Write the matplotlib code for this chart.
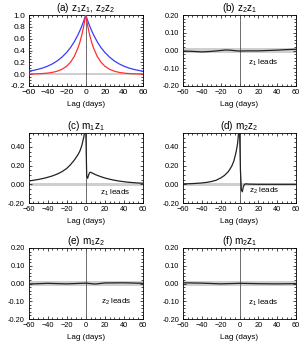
import numpy as np
import matplotlib
matplotlib.use("Agg")
import matplotlib.pyplot as plt
from matplotlib.ticker import MultipleLocator, FormatStrFormatter

plt.rcParams['font.family'] = ['Liberation Sans', 'DejaVu Sans']
plt.rcParams['mathtext.fontset'] = 'custom'
plt.rcParams['mathtext.rm'] = 'Liberation Sans'
plt.rcParams['mathtext.it'] = 'Liberation Sans'

# ---- data ----
lag_a = [-60, -55, -50, -45, -40, -35, -30, -25, -20, -16, -12, -8, -6, -4, -2, 0,
         2, 4, 6, 8, 12, 16, 20, 25, 30, 35, 40, 45, 50, 55, 60]
z1z1 = [0.05, 0.064, 0.082, 0.105, 0.135, 0.174, 0.223, 0.287, 0.368, 0.449, 0.549, 0.670, 0.741, 0.819, 0.905, 1.0,
        0.905, 0.819, 0.741, 0.670, 0.549, 0.449, 0.368, 0.287, 0.223, 0.174, 0.135, 0.105, 0.082, 0.064, 0.05]
z2z2 = [0.002, 0.004, 0.007, 0.011, 0.018, 0.030, 0.050, 0.082, 0.135, 0.202, 0.301, 0.449, 0.549, 0.670, 0.819, 1.0,
        0.819, 0.670, 0.549, 0.449, 0.301, 0.202, 0.135, 0.082, 0.050, 0.030, 0.018, 0.011, 0.007, 0.004, 0.002]

lag_b = [-60, -50, -40, -30, -20, -15, -10, -5, 0, 10, 20, 30, 40, 50, 60]
z2z1 = [-0.003, -0.005, -0.008, -0.005, 0.0, 0.003, 0.002, -0.001, -0.003, -0.002, -0.002, 0.0, 0.002, 0.005, 0.007]

lag_c = [-60, -55, -50, -45, -40, -35, -30, -25, -20, -16, -12, -8, -6, -4, -3, -2, -1, 0,
         1, 2, 3, 4, 5, 7, 10, 15, 20, 25, 30, 35, 40, 45, 50, 55, 60]
m1z1 = [0.036, 0.043, 0.052, 0.062, 0.075, 0.09, 0.11, 0.135, 0.17, 0.21, 0.26, 0.32, 0.36, 0.42, 0.465, 0.51, 0.57, 0.60,
        0.09, 0.065, 0.10, 0.125, 0.13, 0.12, 0.105, 0.085, 0.068, 0.055, 0.044, 0.035, 0.028, 0.022, 0.018, 0.014, 0.012]

lag_d = [-60, -55, -50, -45, -40, -35, -30, -25, -20, -16, -12, -10, -8, -6, -4, -3, -2, -1, 0,
         1, 2, 3, 4, 5, 6, 8, 10, 15, 20, 30, 40, 50, 60]
m2z2 = [0.005, 0.006, 0.008, 0.011, 0.015, 0.021, 0.03, 0.043, 0.068, 0.095, 0.135, 0.165, 0.2, 0.25, 0.33, 0.38, 0.44, 0.55, 0.60,
        0.15, -0.06, -0.08, -0.03, -0.005, 0.004, 0.004, 0.002, 0.001, 0.0, 0.0, 0.0, 0.0, 0.0]

lag_e = [-60, -40, -20, 0, 10, 20, 40, 60]
m1z2 = [-0.003, 0.001, -0.002, 0.002, -0.003, 0.003, 0.004, 0.001]

lag_f = [-60, -40, -20, 0, 20, 40, 60]
m2z1 = [0.004, 0.002, -0.002, 0.001, -0.001, -0.002, -0.001]

band_lo, band_hi = -0.014, 0.014

titles = ['(a) z$_1$z$_1$, z$_2$z$_2$', '(b) z$_2$z$_1$', '(c) m$_1$z$_1$',
          '(d) m$_2$z$_2$', '(e) m$_1$z$_2$', '(f) m$_2$z$_1$']
leads = [None, 'z$_1$ leads', 'z$_1$ leads', 'z$_2$ leads', 'z$_2$ leads', 'z$_1$ leads']
lead_pos = [None, (25, -0.071), (31, -0.088), (26, -0.07), (32, -0.105), (25, -0.11)]

# ---- layout ----
W, H = 307, 351
fig = plt.figure(figsize=(W / 100, H / 100), dpi=100)
cols = [(28.5, 143), (183, 296)]
rows = [(15, 86), (133, 203), (248, 319)]

axes = []
for r in range(3):
    for c in range(2):
        x0, x1 = cols[c]
        t, b = rows[r]
        ax = fig.add_axes([x0 / W, 1 - b / H, (x1 - x0) / W, (b - t) / H])
        axes.append(ax)

series = [None, (lag_b, z2z1), (lag_c, m1z1), (lag_d, m2z2), (lag_e, m1z2), (lag_f, m2z1)]

for i, ax in enumerate(axes):
    ax.set_xlim(-60, 60)
    ax.fill_between([-60, 60], [band_lo, band_lo], [band_hi, band_hi], color='#cfcfcf', lw=0, zorder=1)
    ax.axvline(0, color='#555555', lw=0.6, zorder=2)
    if i == 0:
        ax.plot(lag_a, z1z1, color='#3a3aff', lw=0.9, zorder=3)
        ax.plot(lag_a, z2z2, color='#ff3030', lw=0.9, zorder=3)
        ax.set_ylim(-0.2, 1.0)
        ax.yaxis.set_major_locator(MultipleLocator(0.2))
        ax.yaxis.set_minor_locator(MultipleLocator(0.05))
        ax.yaxis.set_major_formatter(FormatStrFormatter('%.1f'))
        fs = 6.0
    else:
        lx, ly = series[i]
        ax.plot(lx, ly, color='#222222', lw=0.9, zorder=3)
        if i in (2, 3):
            ax.set_ylim(-0.2, 0.55)
            ax.set_yticks([-0.2, 0.0, 0.2, 0.4])
            ax.yaxis.set_minor_locator(MultipleLocator(0.05))
        else:
            ax.set_ylim(-0.2, 0.2)
            ax.yaxis.set_major_locator(MultipleLocator(0.1))
            ax.yaxis.set_minor_locator(MultipleLocator(0.02))
        ax.yaxis.set_major_formatter(FormatStrFormatter('%.2f'))
        fs = 5.3
        tx, ty = lead_pos[i]
        ax.text(tx, ty, leads[i], fontsize=5.8, ha='center', va='center')
    ax.xaxis.set_major_locator(MultipleLocator(20))
    ax.xaxis.set_minor_locator(MultipleLocator(5))
    ax.tick_params(which='both', direction='in', top=True, right=True, labelsize=fs, pad=2.5, width=0.5)
    ax.tick_params(which='major', length=2.5)
    ax.tick_params(which='minor', length=1.3)
    for s in ax.spines.values():
        s.set_linewidth(0.6)
    ax.set_xlabel('Lag (days)', fontsize=5.8, labelpad=3.5)
    ax.set_title(titles[i], fontsize=7.2, pad=1.5)

fig.savefig('out.png', dpi=100)
